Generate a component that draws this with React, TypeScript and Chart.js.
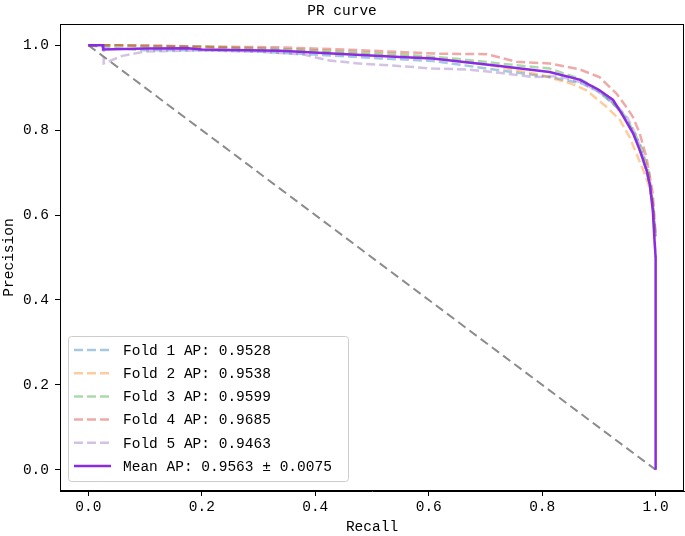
import React, { useEffect, useRef } from "react";
import { Chart, registerables } from "chart.js";

Chart.register(...registerables);

const FONT = "'Liberation Mono', 'DejaVu Sans Mono', monospace";
const FONT_SIZE = 14.5;

const xTickValues = [0, 0.2, 0.4, 0.6, 0.8, 1.0];
const yTickValues = [0, 0.2, 0.4, 0.6, 0.8, 1.0];

const foldLabels = [
  "Fold 1 AP: 0.9528",
  "Fold 2 AP: 0.9538",
  "Fold 3 AP: 0.9599",
  "Fold 4 AP: 0.9685",
  "Fold 5 AP: 0.9463",
];
const meanLabel = "Mean AP: 0.9563 ± 0.0075";

const fold1Recall = [0, 0.03, 0.1, 0.2, 0.3, 0.426, 0.514, 0.607, 0.725, 0.813, 0.87, 0.9, 0.931, 0.95, 0.965, 0.978, 0.988, 0.995, 1.0];
const fold1Precision = [1.0, 0.995, 0.988, 0.988, 0.985, 0.976, 0.969, 0.963, 0.941, 0.925, 0.91, 0.89, 0.855, 0.82, 0.78, 0.73, 0.68, 0.62, 0.55];

const fold2Recall = [0, 0.05, 0.1, 0.2, 0.3, 0.4, 0.5, 0.6, 0.7, 0.801, 0.85, 0.878, 0.913, 0.937, 0.954, 0.966, 0.978, 0.988, 0.995, 1.0];
const fold2Precision = [1.0, 1.0, 0.997, 0.995, 0.99, 0.985, 0.978, 0.97, 0.955, 0.929, 0.91, 0.894, 0.855, 0.824, 0.784, 0.745, 0.706, 0.67, 0.63, 0.5];

const fold3Recall = [0, 0.05, 0.1, 0.2, 0.3, 0.4, 0.549, 0.65, 0.725, 0.813, 0.866, 0.9, 0.925, 0.945, 0.96, 0.975, 0.988, 0.996, 1.0];
const fold3Precision = [1.0, 1.0, 0.998, 0.997, 0.993, 0.988, 0.979, 0.968, 0.957, 0.945, 0.921, 0.895, 0.863, 0.835, 0.8, 0.76, 0.7, 0.62, 0.55];

const fold4Recall = [0, 0.05, 0.1, 0.2, 0.338, 0.45, 0.549, 0.62, 0.702, 0.755, 0.813, 0.866, 0.901, 0.931, 0.948, 0.96, 0.972, 0.984, 0.995, 1.0];
const fold4Precision = [1.0, 1.0, 1.0, 0.997, 0.995, 0.99, 0.984, 0.98, 0.979, 0.961, 0.957, 0.943, 0.925, 0.886, 0.855, 0.831, 0.792, 0.735, 0.651, 0.55];

const fold5Recall = [0, 0.027, 0.027, 0.06, 0.1, 0.2, 0.3, 0.38, 0.42, 0.467, 0.56, 0.607, 0.667, 0.725, 0.784, 0.831, 0.87, 0.9, 0.93, 0.95, 0.965, 0.978, 0.99, 1.0];
const fold5Precision = [1.0, 1.0, 0.957, 0.975, 0.985, 0.988, 0.985, 0.978, 0.965, 0.958, 0.95, 0.945, 0.943, 0.935, 0.925, 0.927, 0.912, 0.89, 0.86, 0.83, 0.79, 0.74, 0.67, 0.55];

const meanRecall = [0, 0.026, 0.026, 0.1, 0.176, 0.2, 0.338, 0.455, 0.549, 0.607, 0.725, 0.813, 0.866, 0.901, 0.925, 0.942, 0.96, 0.972, 0.984, 0.99, 0.995, 0.998, 1.0, 1.0];
const meanPrecision = [1.0, 1.0, 0.99, 0.992, 0.993, 0.99, 0.987, 0.979, 0.972, 0.969, 0.951, 0.937, 0.919, 0.894, 0.871, 0.835, 0.793, 0.753, 0.706, 0.67, 0.612, 0.541, 0.5, 0.0];

const diagRecall = [0, 1];
const diagPrecision = [1, 0];

const foldColors = [
  "rgba(31,119,180,0.4)",
  "rgba(255,127,14,0.4)",
  "rgba(44,160,44,0.4)",
  "rgba(214,39,40,0.4)",
  "rgba(148,103,189,0.4)",
];
const meanColor = "#8A2BE2";

const toPoints = (xs: number[], ys: number[]) => xs.map((x, i) => ({ x, y: ys[i] }));

const frameAndLegend = {
  id: "frameAndLegend",
  afterDraw(chart: any) {
    const ctx = chart.ctx;
    const ca = chart.chartArea;
    ctx.save();
    ctx.strokeStyle = "#000";
    ctx.lineWidth = 1;
    ctx.strokeRect(Math.round(ca.left) + 0.5, Math.round(ca.top) + 0.5, Math.round(ca.right - ca.left) - 1, Math.round(ca.bottom - ca.top) - 1);

    const items = chart.data.datasets.filter((d: any) => d.inLegend);
    const bx = ca.left + 8;
    const bw = 280;
    const rowH = 23.2;
    const bh = 145;
    const by = ca.bottom - 10 - bh;
    ctx.beginPath();
    (ctx as any).roundRect(bx + 0.5, by + 0.5, bw, bh, 3);
    ctx.fillStyle = "rgba(255,255,255,0.8)";
    ctx.fill();
    ctx.strokeStyle = "#cccccc";
    ctx.lineWidth = 1;
    ctx.stroke();

    ctx.font = `${FONT_SIZE}px ${FONT}`;
    ctx.textBaseline = "middle";
    ctx.textAlign = "left";
    items.forEach((d: any, i: number) => {
      const cy = by + 14 + i * rowH;
      ctx.beginPath();
      ctx.strokeStyle = d.borderColor;
      ctx.lineWidth = d.borderWidth;
      ctx.setLineDash(d.borderDash || []);
      ctx.moveTo(bx + 6, cy);
      ctx.lineTo(bx + 43, cy);
      ctx.stroke();
      ctx.setLineDash([]);
      ctx.fillStyle = "#000";
      ctx.fillText(d.label, bx + 55, cy + 1);
    });
    ctx.restore();
  },
};

export default function App() {
  const ref = useRef<HTMLCanvasElement | null>(null);
  useEffect(() => {
    if (!ref.current) return;
    const foldData = [
      toPoints(fold1Recall, fold1Precision),
      toPoints(fold2Recall, fold2Precision),
      toPoints(fold3Recall, fold3Precision),
      toPoints(fold4Recall, fold4Precision),
      toPoints(fold5Recall, fold5Precision),
    ];
    const datasets: any[] = foldData.map((data, i) => ({
      label: foldLabels[i],
      data,
      borderColor: foldColors[i],
      backgroundColor: foldColors[i],
      borderWidth: 2.5,
      borderDash: [9, 4],
      pointRadius: 0,
      fill: false,
      tension: 0,
      order: 5 - i,
      inLegend: true,
    }));
    datasets.push({
      label: meanLabel,
      data: toPoints(meanRecall, meanPrecision),
      borderColor: meanColor,
      backgroundColor: meanColor,
      borderWidth: 2.5,
      pointRadius: 0,
      fill: false,
      tension: 0,
      order: 0,
      inLegend: true,
    });
    datasets.push({
      label: "",
      data: toPoints(diagRecall, diagPrecision),
      borderColor: "#8c8c8c",
      backgroundColor: "#8c8c8c",
      borderWidth: 2,
      borderDash: [9, 5],
      pointRadius: 0,
      fill: false,
      order: 10,
      inLegend: false,
    });

    const font = { family: FONT, size: FONT_SIZE };
    const chart = new Chart(ref.current, {
      type: "line",
      data: { datasets },
      options: {
        animation: false,
        responsive: false,
        devicePixelRatio: 1,
        parsing: false as any,
        layout: { padding: { left: 0, right: 1, top: 0, bottom: 0 } },
        plugins: {
          legend: { display: false },
          tooltip: { enabled: false },
          title: {
            display: true,
            text: "PR curve",
            color: "#000",
            font: { family: FONT, size: FONT_SIZE, weight: "normal" as any },
            padding: { top: 2, bottom: 4.6 },
          },
        },
        scales: {
          x: {
            type: "linear",
            min: -0.05,
            max: 1.05,
            afterBuildTicks: (s: any) => {
              s.ticks = xTickValues.map((v) => ({ value: v }));
            },
            afterFit: (s: any) => {
              s.height = 45;
            },
            ticks: {
              color: "#000",
              font,
              padding: 2,
              maxRotation: 0,
              callback: (v: any) => Number(v).toFixed(1),
            },
            grid: { drawOnChartArea: false, drawTicks: true, tickLength: 5, color: "#000" },
            border: { display: true, color: "#000" },
            title: { display: true, text: "Recall", color: "#000", font, padding: 0 },
          },
          y: {
            type: "linear",
            min: -0.05,
            max: 1.05,
            afterBuildTicks: (s: any) => {
              s.ticks = yTickValues.map((v) => ({ value: v }));
            },
            afterFit: (s: any) => {
              s.width = 60;
            },
            ticks: {
              color: "#000",
              font,
              padding: 6,
              callback: (v: any) => Number(v).toFixed(1),
            },
            grid: { drawOnChartArea: false, drawTicks: true, tickLength: 5, color: "#000" },
            border: { display: true, color: "#000" },
            title: { display: true, text: "Precision", color: "#000", font, padding: 0 },
          },
        },
      },
      plugins: [frameAndLegend],
    } as any);
    return () => chart.destroy();
  }, []);

  return (
    <div style={{ position: "absolute", left: 0, top: 0, width: 685, height: 536, background: "#fff" }}>
      <canvas ref={ref} width={685} height={536} style={{ display: "block" }} />
    </div>
  );
}
